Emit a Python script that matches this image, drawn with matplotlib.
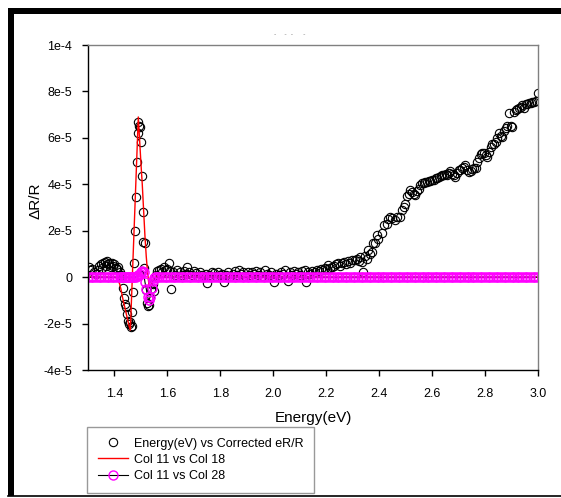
import matplotlib
matplotlib.use("Agg")
import matplotlib.pyplot as plt
from matplotlib.lines import Line2D
from matplotlib.patches import Rectangle

plt.rcParams['font.family'] = ['Liberation Sans', 'DejaVu Sans']

# measured data: energy (eV) and corrected eR/R (in units of 1e-5)
energy = [
    1.302, 1.308, 1.315, 1.322, 1.330, 1.336, 1.342, 1.348, 1.353, 1.358, 1.363, 1.368,
    1.372, 1.377, 1.381, 1.386, 1.390, 1.395, 1.399, 1.404, 1.409, 1.414, 1.419, 1.424,
    1.428, 1.432, 1.436, 1.440, 1.444, 1.448, 1.451, 1.455, 1.459, 1.462, 1.465, 1.468,
    1.471, 1.474, 1.477, 1.480, 1.484, 1.487, 1.489, 1.492, 1.496, 1.500, 1.503, 1.506,
    1.509, 1.512, 1.516, 1.520, 1.523, 1.527, 1.530, 1.534, 1.538, 1.544, 1.551, 1.556,
    1.561, 1.567, 1.574, 1.580, 1.586, 1.593, 1.600, 1.605, 1.610, 1.614, 1.620, 1.628,
    1.637, 1.646, 1.654, 1.662, 1.669, 1.675, 1.683, 1.691, 1.699, 1.707, 1.715, 1.723,
    1.731, 1.739, 1.745, 1.751, 1.759, 1.767, 1.776, 1.784, 1.791, 1.799, 1.806, 1.814,
    1.822, 1.830, 1.838, 1.846, 1.854, 1.862, 1.871, 1.879, 1.887, 1.895, 1.903, 1.911,
    1.919, 1.927, 1.935, 1.943, 1.951, 1.959, 1.967, 1.975, 1.983, 1.991, 1.998, 2.004,
    2.012, 2.020, 2.030, 2.038, 2.046, 2.054, 2.062, 2.070, 2.078, 2.086, 2.094, 2.102,
    2.110, 2.118, 2.125, 2.132, 2.140, 2.148, 2.156, 2.164, 2.172, 2.180, 2.188, 2.196,
    2.203, 2.207, 2.215, 2.222, 2.230, 2.238, 2.245, 2.252, 2.260, 2.268, 2.276, 2.283,
    2.290, 2.298, 2.307, 2.315, 2.322, 2.328, 2.334, 2.339, 2.345, 2.353, 2.358, 2.365,
    2.372, 2.377, 2.384, 2.390, 2.397, 2.410, 2.420, 2.428, 2.435, 2.441, 2.450, 2.460,
    2.468, 2.479, 2.486, 2.492, 2.498, 2.505, 2.511, 2.517, 2.525, 2.530, 2.536, 2.543,
    2.549, 2.555, 2.561, 2.568, 2.574, 2.580, 2.587, 2.593, 2.600, 2.607, 2.613, 2.619,
    2.625, 2.632, 2.638, 2.645, 2.651, 2.657, 2.664, 2.669, 2.676, 2.682, 2.688, 2.695,
    2.701, 2.707, 2.714, 2.720, 2.726, 2.733, 2.739, 2.745, 2.752, 2.758, 2.764, 2.770,
    2.777, 2.783, 2.790, 2.796, 2.802, 2.808, 2.815, 2.821, 2.827, 2.834, 2.840, 2.846,
    2.853, 2.859, 2.865, 2.872, 2.878, 2.884, 2.891, 2.897, 2.903, 2.910, 2.916, 2.922,
    2.929, 2.935, 2.941, 2.948, 2.954, 2.960, 2.966, 2.973, 2.979, 2.985, 2.991, 3.000,
]
corrected = [
    0.45, 0.30, 0.35, 0.20, 0.15, 0.30, 0.50, 0.55, 0.40, 0.60, 0.65, 0.50,
    0.68, 0.55, 0.62, 0.45, 0.60, 0.50, 0.58, 0.40, 0.35, 0.45, 0.20, 0.10,
    0.00, -0.45, -0.90, -1.15, -1.30, -1.60, -1.90, -2.00, -1.95, -2.15, -2.10, -1.50,
    -0.65, 0.60, 2.00, 3.45, 4.95, 6.20, 6.70, 6.50, 6.45, 5.80, 4.35, 2.80,
    1.50, 0.40, 1.45, -0.55, -1.10, -1.25, -1.20, -0.90, -0.50, -0.30, -0.60, 0.10,
    0.25, 0.30, 0.35, 0.20, 0.45, 0.30, 0.35, 0.60, 0.25, -0.50, 0.20, 0.10,
    0.30, 0.20, 0.10, 0.25, 0.15, 0.44, 0.20, 0.10, 0.25, 0.16, 0.05, 0.20,
    0.10, 0.00, 0.15, -0.27, 0.10, 0.20, 0.16, 0.05, 0.20, 0.10, 0.15, -0.20,
    0.10, 0.20, 0.05, 0.15, 0.25, 0.10, 0.30, 0.15, 0.20, 0.05, 0.23, 0.10,
    0.20, 0.15, 0.25, 0.10, 0.20, 0.05, 0.30, 0.15, 0.10, 0.20, 0.05, -0.20,
    0.15, 0.10, 0.23, 0.15, 0.30, -0.15, 0.20, 0.10, 0.25, 0.15, 0.20, 0.10,
    0.25, 0.30, -0.20, 0.20, 0.15, 0.25, 0.20, 0.30, 0.25, 0.35, 0.30, 0.40,
    0.35, 0.52, 0.40, 0.45, 0.50, 0.55, 0.59, 0.50, 0.60, 0.65, 0.55, 0.70,
    0.60, 0.75, 0.73, 0.80, 0.70, 0.85, 0.66, 0.23, 0.90, 0.80, 1.16, 1.00,
    1.09, 1.45, 1.45, 1.80, 1.66, 1.88, 2.24, 2.30, 2.50, 2.59, 2.55, 2.45,
    2.60, 2.59, 2.88, 3.00, 3.17, 3.48, 3.60, 3.74, 3.65, 3.60, 3.53, 3.70,
    3.81, 3.95, 4.06, 4.05, 4.10, 4.10, 4.15, 4.12, 4.17, 4.20, 4.25, 4.29,
    4.30, 4.35, 4.42, 4.38, 4.45, 4.39, 4.50, 4.57, 4.45, 4.40, 4.31, 4.50,
    4.60, 4.63, 4.70, 4.75, 4.82, 4.60, 4.55, 4.57, 4.65, 4.70, 4.68, 4.95,
    5.15, 5.30, 5.35, 5.35, 5.25, 5.17, 5.40, 5.60, 5.72, 5.75, 5.82, 6.00,
    6.20, 6.10, 6.03, 6.30, 6.44, 6.50, 7.08, 6.50, 6.46, 7.10, 7.18, 7.25,
    7.30, 7.35, 7.40, 7.30, 7.45, 7.47, 7.50, 7.52, 7.54, 7.55, 7.58, 7.93,
]

# fit curves: Col 11 (energy), Col 18 and Col 28 (in units of 1e-5)
col11 = [
    1.30, 1.31, 1.32, 1.33, 1.34, 1.35, 1.36, 1.37, 1.38, 1.39, 1.40, 1.41, 1.42,
    1.425, 1.43, 1.435, 1.44, 1.445, 1.45, 1.455, 1.46, 1.465, 1.47, 1.475, 1.48,
    1.485, 1.49, 1.495, 1.50, 1.505, 1.51, 1.515, 1.52, 1.525, 1.53, 1.535, 1.54,
    1.545, 1.55, 1.555, 1.56,
    1.57, 1.58, 1.59, 1.60, 1.61, 1.62, 1.63, 1.64, 1.65, 1.66, 1.67, 1.68,
    1.69, 1.70, 1.71, 1.72, 1.73, 1.74, 1.75, 1.76, 1.77, 1.78, 1.79, 1.80,
    1.81, 1.82, 1.83, 1.84, 1.85, 1.86, 1.87, 1.88, 1.89, 1.90, 1.91, 1.92,
    1.93, 1.94, 1.95, 1.96, 1.97, 1.98, 1.99, 2.00, 2.01, 2.02, 2.03, 2.04,
    2.05, 2.06, 2.07, 2.08, 2.09, 2.10, 2.11, 2.12, 2.13, 2.14, 2.15, 2.16,
    2.17, 2.18, 2.19, 2.20, 2.21, 2.22, 2.23, 2.24, 2.25, 2.26, 2.27, 2.28,
    2.29, 2.30, 2.31, 2.32, 2.33, 2.34, 2.35, 2.36, 2.37, 2.38, 2.39, 2.40,
    2.41, 2.42, 2.43, 2.44, 2.45, 2.46, 2.47, 2.48, 2.49, 2.50, 2.51, 2.52,
    2.53, 2.54, 2.55, 2.56, 2.57, 2.58, 2.59, 2.60, 2.61, 2.62, 2.63, 2.64,
    2.65, 2.66, 2.67, 2.68, 2.69, 2.70, 2.71, 2.72, 2.73, 2.74, 2.75, 2.76,
    2.77, 2.78, 2.79, 2.80, 2.81, 2.82, 2.83, 2.84, 2.85, 2.86, 2.87, 2.88,
    2.89, 2.90, 2.91, 2.92, 2.93, 2.94, 2.95, 2.96, 2.97, 2.98, 2.99, 3.00,
]
col18 = [
    0, 0, 0, 0, 0, 0, 0, 0, 0, 0, 0, -0.05, -0.30,
    -0.55, -0.85, -1.10, -1.35, -1.60, -1.85, -2.10, -2.28, -0.75, 0.78, 2.31, 3.84,
    5.37, 6.90, 5.90, 4.90, 4.00, 2.90, 1.80, 0.90, 0.20, -0.30, -0.40, -0.30,
    -0.15, -0.05, 0, 0,
    0, 0, 0, 0, 0, 0, 0, 0, 0, 0, 0, 0, 0, 0, 0, 0, 0, 0, 0, 0, 0, 0, 0, 0,
    0, 0, 0, 0, 0, 0, 0, 0, 0, 0, 0, 0, 0, 0, 0, 0, 0, 0, 0, 0, 0, 0, 0, 0,
    0, 0, 0, 0, 0, 0, 0, 0, 0, 0, 0, 0, 0, 0, 0, 0, 0, 0, 0, 0, 0, 0, 0, 0,
    0, 0, 0, 0, 0, 0, 0, 0, 0, 0, 0, 0, 0, 0, 0, 0, 0, 0, 0, 0, 0, 0, 0, 0,
    0, 0, 0, 0, 0, 0, 0, 0, 0, 0, 0, 0, 0, 0, 0, 0, 0, 0, 0, 0, 0, 0, 0, 0,
    0, 0, 0, 0, 0, 0, 0, 0, 0, 0, 0, 0, 0, 0, 0, 0, 0, 0, 0, 0, 0, 0, 0, 0,
]
col28 = [
    0, 0, 0, 0, 0, 0, 0, 0, 0, 0, 0, 0, 0,
    0, 0, 0, 0, 0, 0, 0, 0, 0, 0, 0, 0,
    0.05, 0.08, 0.12, 0.20, 0.25, 0.20, -0.20, -0.50, -0.85, -1.00, -0.85, -0.45,
    -0.15, -0.05, 0, 0,
    0, 0, 0, 0, 0, 0, 0, 0, 0, 0, 0, 0, 0, 0, 0, 0, 0, 0, 0, 0, 0, 0, 0, 0,
    0, 0, 0, 0, 0, 0, 0, 0, 0, 0, 0, 0, 0, 0, 0, 0, 0, 0, 0, 0, 0, 0, 0, 0,
    0, 0, 0, 0, 0, 0, 0, 0, 0, 0, 0, 0, 0, 0, 0, 0, 0, 0, 0, 0, 0, 0, 0, 0,
    0, 0, 0, 0, 0, 0, 0, 0, 0, 0, 0, 0, 0, 0, 0, 0, 0, 0, 0, 0, 0, 0, 0, 0,
    0, 0, 0, 0, 0, 0, 0, 0, 0, 0, 0, 0, 0, 0, 0, 0, 0, 0, 0, 0, 0, 0, 0, 0,
    0, 0, 0, 0, 0, 0, 0, 0, 0, 0, 0, 0, 0, 0, 0, 0, 0, 0, 0, 0, 0, 0, 0, 0,
]

x_ticks = [1.4, 1.6, 1.8, 2.0, 2.2, 2.4, 2.6, 2.8, 3.0]
y_ticks = [-4e-5, -2e-5, 0, 2e-5, 4e-5, 6e-5, 8e-5, 1e-4]
y_ticklabels = ["-4e-5", "-2e-5", "0", "2e-5", "4e-5", "6e-5", "8e-5", "1e-4"]

scale = 1e-5

fig = plt.figure(figsize=(5.61, 4.98), dpi=100)
ax = fig.add_axes([88 / 561, 1 - 370 / 498, 450 / 561, 325 / 498])

ax.plot(energy, [v * scale for v in corrected], ls="none", marker="o", ms=6,
        mfc="none", mec="black", mew=0.8)
ax.plot(col11, [v * scale for v in col18], color="red", lw=1.0)
ax.plot(col11, [v * scale for v in col28], color="black", lw=0.8, marker="o", ms=6.5,
        mfc="none", mec="magenta", mew=1.1)

ax.set_xlim(1.3, 3.0)
ax.set_ylim(-4e-5, 1e-4)
ax.set_xticks(x_ticks)
ax.set_xticklabels(["%.1f" % t for t in x_ticks])
ax.set_yticks(y_ticks)
ax.set_yticklabels(y_ticklabels)
ax.tick_params(axis="both", direction="out", length=4, width=1, labelsize=9)
ax.tick_params(axis="x", pad=9)
ax.tick_params(axis="y", pad=7.5)
ax.tick_params(top=False, right=False)

for side in ["top", "right"]:
    ax.spines[side].set_color("#808080")
for side in ["left", "bottom"]:
    ax.spines[side].set_color("black")
for s in ax.spines.values():
    s.set_linewidth(1.0)

ax.set_xlabel("Energy(eV)", fontsize=11)
ax.set_ylabel("\u0394R/R", fontsize=11)
ax.xaxis.set_label_coords(0.5, -0.125)
ax.yaxis.set_label_coords(-0.10, 0.52)

# faint title marks
fig.text(290 / 561, 1 - 34 / 498, "-    -  -     -", fontsize=5, color="#999999",
         ha="center", va="center")

# outer page frame
fig.add_artist(Rectangle((8 / 561, 1 - 14 / 498), 1 - 8 / 561, 6 / 498,
                         transform=fig.transFigure, color="black", lw=0))
fig.add_artist(Rectangle((8 / 561, 1 - 496 / 498), 6 / 561, 488 / 498,
                         transform=fig.transFigure, color="black", lw=0))
fig.add_artist(Line2D([8 / 561, 1], [1 - 495.5 / 498, 1 - 495.5 / 498],
                      transform=fig.transFigure, color="black", lw=1.2))

handles = [
    Line2D([], [], ls="none", marker="o", ms=6, mfc="none", mec="black", mew=0.8),
    Line2D([], [], color="red", lw=1.0),
    Line2D([], [], color="black", lw=0.8, marker="o", ms=6.5, mfc="none",
           mec="magenta", mew=1.0),
]
labels = ["Energy(eV) vs Corrected eR/R", "Col 11 vs Col 18", "Col 11 vs Col 28"]
leg = fig.legend(handles, labels, loc="upper left",
                 bbox_to_anchor=(87 / 561, 1 - 427 / 498), bbox_transform=fig.transFigure,
                 fontsize=9, frameon=True, fancybox=False, edgecolor="#808080",
                 handlelength=2.4, handletextpad=0.5, labelspacing=0.33,
                 borderpad=0.85, borderaxespad=0, numpoints=1)
leg.get_frame().set_linewidth(1.0)

fig.savefig("out.png", dpi=100)
